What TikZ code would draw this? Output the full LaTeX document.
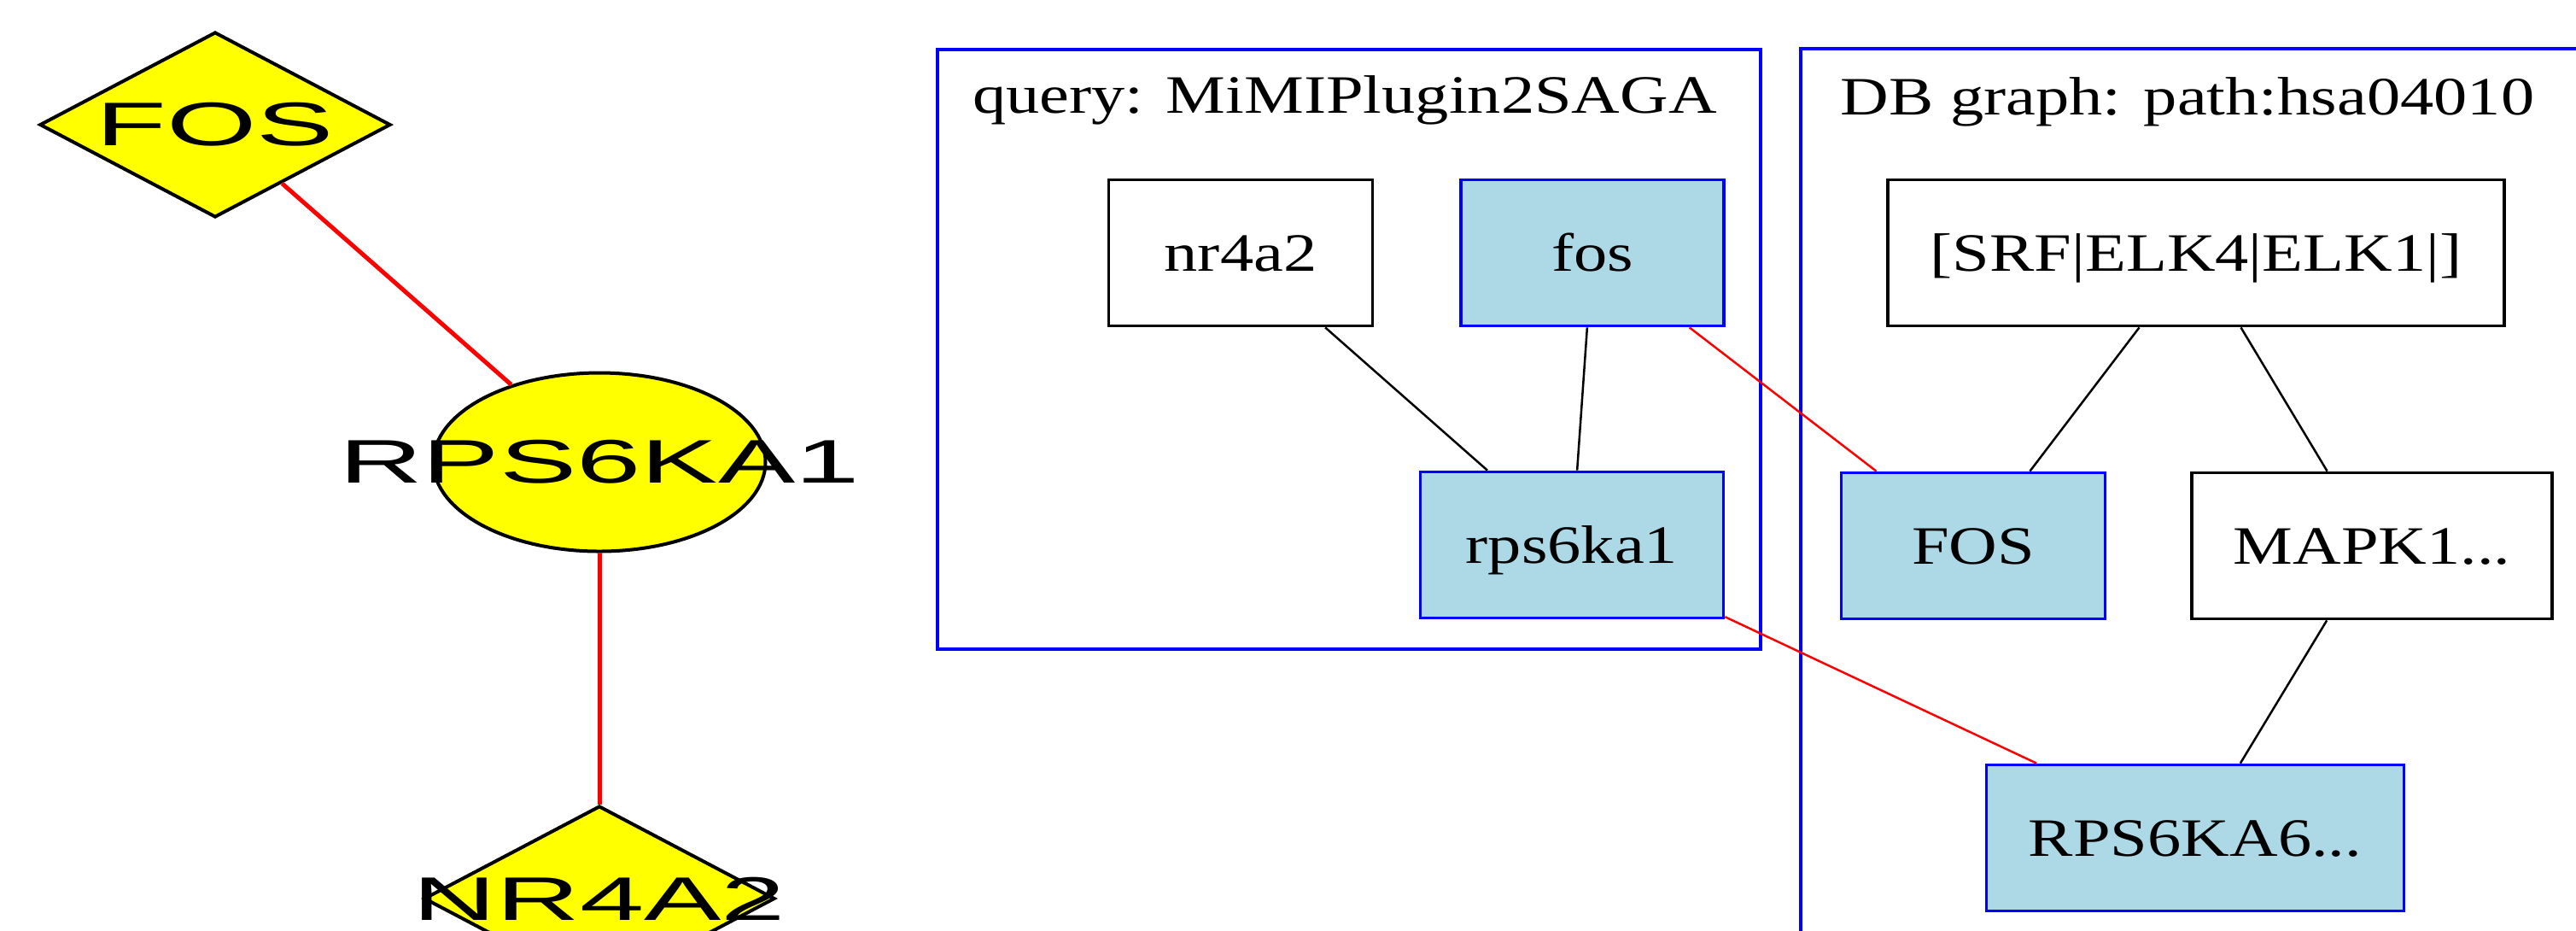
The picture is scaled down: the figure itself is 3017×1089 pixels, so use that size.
\documentclass[tikz,border=0pt]{standalone}
\usepackage{fontspec}
\usepackage{tikz}
\newfontfamily\serifwide[FakeStretch=1.24]{Liberation Serif}
\newfontfamily\sanswide[FakeStretch=1.88]{Liberation Sans}
\definecolor{gvblue}{RGB}{0,0,255}
\definecolor{gvred}{RGB}{255,0,0}
\definecolor{gvyellow}{RGB}{255,255,0}
\definecolor{lightblue}{RGB}{173,216,230}
\usetikzlibrary{shapes.geometric}
\tikzstyle{edge} = [draw, line width=0.25mm]
\tikzstyle{match} = [draw=gvred, line width=0.25mm]

\begin{document}
\begin{tikzpicture}[x=0.1mm, y=-0.1mm]
        \tikzstyle{block} = [rectangle, draw, line width=0.38mm, minimum height=17.1mm,
        text height=12.2pt, text depth=0pt, font=\serifwide\fontsize{18pt}{21pt}\selectfont]
        \tikzstyle{hit} = [block, draw=gvblue, fill=lightblue]
        \tikzstyle{gene} = [draw, fill=gvyellow, line width=0.4mm, inner sep=0pt,
        font=\sanswide\fontsize{20.5pt}{24pt}\selectfont]
        \tikzstyle{line} = [draw=gvred, line width=0.5mm]
        \tikzstyle{cluster} = [draw=gvblue, line width=0.38mm]
        \tikzstyle{title} = [anchor=base, font=\serifwide\fontsize{18pt}{21pt}\selectfont]

        \useasboundingbox (0,0) rectangle (3017,1089);
        \fill [white] (0,0) rectangle (3017,1089);
        \clip (0,0) rectangle (3017,1089);

        % interaction network
        \node [gene, diamond, minimum width=41.1mm, minimum height=21.7mm] (fos) at (252,146) {\makebox[0pt]{FOS}};
        \node [gene, ellipse, minimum width=38.9mm, minimum height=20.9mm] (rps) at (702,541) {\makebox[0pt]{RPS6KA1}};
        \node [gene, diamond, minimum width=41.1mm, minimum height=21.7mm] (nr) at (702,1052) {\makebox[0pt]{NR4A2}};

        \draw [line] (fos) -- (rps);
        \draw [line] (rps) -- (nr);

        % query and database clusters
        \draw [cluster] (1098,58) rectangle (2062,760);
        \draw [cluster] (2109,57) rectangle (3060,1120);
        \node [title] (qtitle) at (1575,132) {query: MiMIPlugin2SAGA};
        \node [title] (dbtitle) at (2562,134) {DB graph: path:hsa04010};

        \node [block, minimum width=30.9mm] (qnr4a2) at (1453,296) {nr4a2};
        \node [hit, minimum width=30.8mm] (qfos) at (1865,296) {fos};
        \node [hit, minimum width=35.5mm] (qrps) at (1841,638) {rps6ka1};

        \node [block, minimum width=72.2mm] (dbsrf) at (2572,296) {[SRF|ELK4|ELK1|]};
        \node [hit, minimum width=30.9mm] (dbfos) at (2311,639) {FOS};
        \node [block, minimum width=42.2mm] (dbmapk) at (2778,639) {MAPK1...};
        \node [hit, minimum width=48.9mm] (dbrps) at (2571,981) {RPS6KA6...};

        \draw [edge] (qnr4a2) -- (qrps);
        \draw [edge] (qfos) -- (qrps);
        \draw [edge] (dbsrf) -- (dbfos);
        \draw [edge] (dbsrf) -- (dbmapk);
        \draw [edge] (dbmapk) -- (dbrps);

        % matched genes
        \draw [match] (qfos) -- (dbfos);
        \draw [match] (qrps) -- (dbrps);
    \end{tikzpicture}
\end{document}
